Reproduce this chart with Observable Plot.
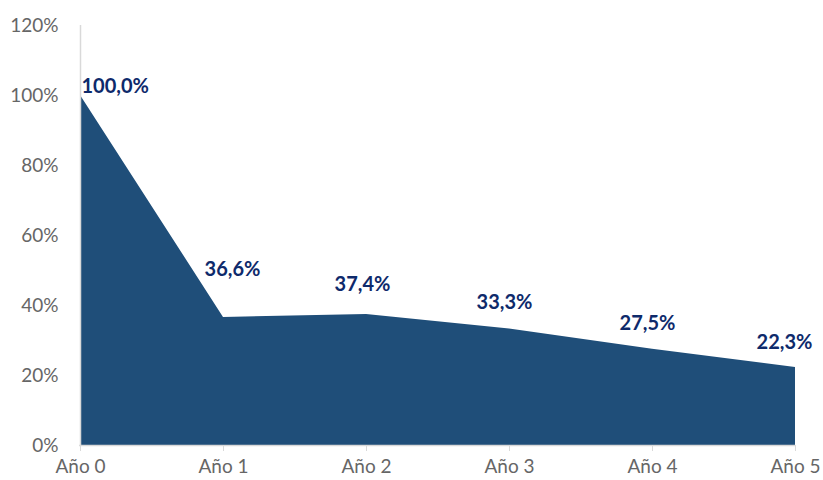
<!DOCTYPE html>
<html>
<head>
<meta charset="utf-8">
<script src="https://cdn.jsdelivr.net/npm/d3@7"></script>
<script src="https://cdn.jsdelivr.net/npm/@observablehq/plot@0.6"></script>
<style>
  body { margin: 0; background: #fff; }
  #chart svg { display: block; }
</style>
</head>
<body>
<div id="chart"></div>
<script>
const categories = ["Año 0", "Año 1", "Año 2", "Año 3", "Año 4", "Año 5"];
const values = [100.0, 36.6, 37.4, 33.3, 27.5, 22.3];
const yTicks = [0, 20, 40, 60, 80, 100, 120];

const data = categories.map((c, i) => ({ year: c, value: values[i] }));
const fmt = v => v.toFixed(1).replace(".", ",") + "%";

const font = "'Lato', 'DejaVu Sans', sans-serif";
const labelStyle = { fill: "#0E2A6B", fontWeight: "bold", fontSize: 20 };

const chart = Plot.plot({
  width: 823,
  height: 480,
  marginLeft: 79,
  marginRight: 28,
  marginTop: 25,
  marginBottom: 35,
  style: { fontFamily: font, fontSize: "19px", color: "#595959", background: "#fff" },
  x: { type: "point", domain: categories, padding: 0 },
  y: { domain: [0, 120] },
  marks: [
    Plot.areaY(data, { x: "year", y: "value", fill: "#1F4E79", curve: "linear" }),
    Plot.ruleX([0], { x: () => categories[0], y1: 0, y2: 120, stroke: "#D9D9D9", strokeWidth: 1.5 }),
    Plot.ruleY([0], { stroke: "#D9D9D9", strokeWidth: 1.5 }),
    Plot.axisY({ ticks: yTicks, tickSize: 0, tickPadding: 21, tickFormat: d => d + "%", label: null, fill: "#666666", fontSize: 19 }),
    Plot.axisX({ tickSize: 6, tickPadding: 8, stroke: "#D9D9D9", label: null, fill: "#666666", fontSize: 19 }),
    Plot.text(data.filter((d, i) => i === 0), {
      x: "year", y: "value", text: d => fmt(d.value), textAnchor: "start", dx: 1, dy: -9, ...labelStyle
    }),
    Plot.text(data.filter((d, i) => i === 1), {
      x: "year", y: "value", text: d => fmt(d.value), dx: 9, dy: -48, ...labelStyle
    }),
    Plot.text(data.filter((d, i) => i === 2), {
      x: "year", y: "value", text: d => fmt(d.value), dx: -4, dy: -30, ...labelStyle
    }),
    Plot.text(data.filter((d, i) => i >= 3 && i < 5), {
      x: "year", y: "value", text: d => fmt(d.value), dx: -5, dy: -26, ...labelStyle
    }),
    Plot.text(data.filter((d, i) => i === 5), {
      x: "year", y: "value", text: d => fmt(d.value), dx: -11, dy: -25, ...labelStyle
    })
  ]
});
document.getElementById("chart").appendChild(chart);
</script>
</body>
</html>
